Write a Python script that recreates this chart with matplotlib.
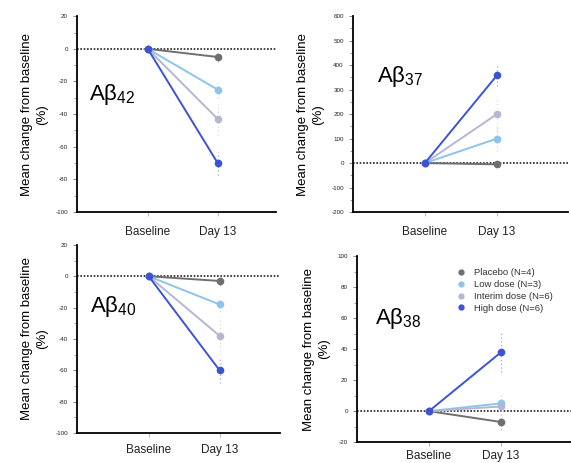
import matplotlib.pyplot as plt
import numpy as np

plt.rcParams['font.family'] = ['Liberation Sans', 'DejaVu Sans']
plt.rcParams['axes.unicode_minus'] = False
plt.rcParams['mathtext.default'] = 'regular'

timepoints = ['Baseline', 'Day 13']
groups = ['Placebo (N=4)', 'Low dose (N=3)', 'Interim dose (N=6)', 'High dose (N=6)']
colors = ['#6f6f6f', '#8cc4ee', '#b4b7d2', '#3c53d4']

# day 13 mean change (%) per group: placebo, low, interim, high
ab42_day13 = [-5, -25, -43, -70]
ab42_err = [3, 5, 10, 7]
ab37_day13 = [-5, 100, 200, 358]
ab37_err = [10, 50, 70, 45]
ab40_day13 = [-3, -18, -38, -60]
ab40_err = [3, 5, 12, 8]
ab38_day13 = [-7, 5, 3, 38]
ab38_err = [5, 5, 8, 13]

fig = plt.figure(figsize=(5.71, 4.63), dpi=100)

panels = [
    # rect, subscript, values, errors, ylim, major, minor, xlim, label pos, xtick pad
    ([0.135, 0.542, 0.348, 0.423], '42', ab42_day13, ab42_err, (-100, 20), 20, 10, (-1.01, 1.83), (0.06, 0.60), 7),
    ([0.618, 0.542, 0.377, 0.423], '37', ab37_day13, ab37_err, (-200, 600), 100, 50, (-1.0, 1.99), (0.11, 0.69), 7),
    ([0.135, 0.065, 0.355, 0.406], '40', ab40_day13, ab40_err, (-100, 20), 20, 10, (-1.01, 1.85), (0.064, 0.67), 5),
    ([0.625, 0.045, 0.375, 0.402], '38', ab38_day13, ab38_err, (-20, 100), 20, 10, (-1.0, 1.97), (0.084, 0.667), 3),
]

axes = []
for rect, sub, vals, errs, ylim, major, minor, xlim, lab_pos, pad in panels:
    ax = fig.add_axes(rect)
    ax.axhline(0, color='#222222', ls=(0, (1, 1)), lw=1.2, zorder=1)
    for i in range(len(groups)):
        ax.plot([0, 1], [0, vals[i]], color=colors[i], lw=1.4, marker='o', ms=4.5, zorder=3)
        ax.plot([1, 1], [vals[i] - errs[i], vals[i] + errs[i]], color=colors[i],
                ls=(0, (1, 2)), lw=0.9, alpha=0.5, zorder=2)
    ax.set_xlim(*xlim)
    ax.set_ylim(*ylim)
    ax.set_xticks([0, 1])
    ax.set_xticklabels(timepoints, fontsize=8.5)
    ax.set_yticks(np.arange(ylim[0], ylim[1] + 1, major))
    ax.set_yticks(np.arange(ylim[0], ylim[1] + 1, minor), minor=True)
    ax.tick_params(axis='y', which='major', labelsize=4.5, length=3, width=0.5, colors='#555555', labelcolor='#222222')
    ax.tick_params(axis='y', which='minor', length=2, width=0.5, colors='#777777')
    ax.tick_params(axis='x', length=3, width=0.5, colors='#999999', labelcolor='#222222', pad=pad)
    ax.spines['top'].set_visible(False)
    ax.spines['right'].set_visible(False)
    ax.spines['left'].set_linewidth(1.3)
    ax.spines['bottom'].set_linewidth(1.3)
    ax.set_ylabel('Mean change from baseline\n(%)', fontsize=9.5, labelpad=5, linespacing=1.35)
    ax.text(lab_pos[0], lab_pos[1], 'Aβ$_{%s}$' % sub, transform=ax.transAxes,
            fontsize=16, va='center', ha='left')
    axes.append(ax)

handles = [plt.Line2D([], [], color=c, marker='o', ls='none', ms=3.5) for c in colors]
axes[3].legend(handles, groups, loc='upper left', bbox_to_anchor=(0.44, 0.96), frameon=False,
               fontsize=6.8, handlelength=1.0, handletextpad=0.9, labelspacing=0.3,
               borderpad=0, labelcolor='#333333')

fig.savefig('out.png', dpi=100)
